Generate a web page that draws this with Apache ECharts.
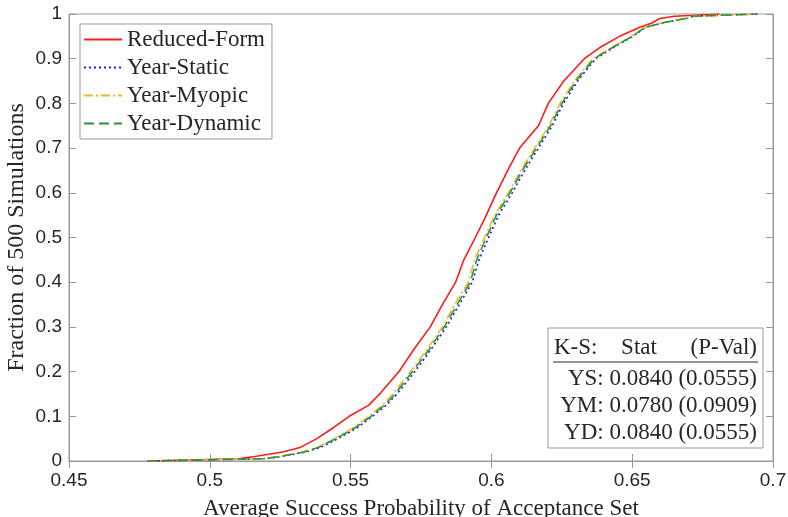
<!DOCTYPE html>
<html>
<head>
<meta charset="utf-8">
<script src="https://cdn.jsdelivr.net/npm/echarts@6/dist/echarts.min.js"></script>
<style>
  html, body { margin: 0; padding: 0; background: #fff; }
  #chart { width: 788px; height: 517px; }
</style>
</head>
<body>
<div id="chart"></div>
<script>
// ECDF levels (fraction of 500 simulations) and the x value reached at each level
var fractions = [0, 0.005, 0.01, 0.02, 0.03, 0.05, 0.075, 0.1, 0.125, 0.15, 0.2, 0.25, 0.3, 0.35, 0.4, 0.45,
                 0.5, 0.55, 0.6, 0.65, 0.7, 0.75, 0.8, 0.85, 0.9, 0.925, 0.95, 0.97, 0.98, 0.99, 0.995, 1];

var reducedForm = [0.4777, 0.510, 0.516, 0.526, 0.532, 0.538, 0.544, 0.5495, 0.5565, 0.5603, 0.5672, 0.5725, 0.5783, 0.5826, 0.5873, 0.5902,
                   0.5943, 0.5982, 0.6018, 0.6058, 0.6100, 0.6167, 0.6202, 0.6257, 0.6330, 0.6385, 0.6455, 0.6525, 0.6570, 0.6598, 0.6650, 0.6810];
var yearStatic  = [0.4780, 0.519, 0.5255, 0.5340, 0.5392, 0.5455, 0.5525, 0.5578, 0.5627, 0.5665, 0.5728, 0.5786, 0.5840, 0.5886, 0.5932, 0.5956,
                   0.5990, 0.6026, 0.6074, 0.6118, 0.6167, 0.6216, 0.6256, 0.6306, 0.6370, 0.6434, 0.6502, 0.6548, 0.6608, 0.6692, 0.6718, 0.6945];
var yearMyopic  = [0.4780, 0.518, 0.5245, 0.5330, 0.5380, 0.5442, 0.5512, 0.5566, 0.5613, 0.5650, 0.5713, 0.5772, 0.5826, 0.5870, 0.5918, 0.5940,
                   0.5976, 0.6012, 0.6060, 0.6104, 0.6154, 0.6204, 0.6244, 0.6295, 0.6360, 0.6427, 0.6496, 0.6542, 0.6602, 0.6688, 0.6712, 0.6940];
var yearDynamic = [0.4780, 0.519, 0.5250, 0.5335, 0.5385, 0.5448, 0.5518, 0.5572, 0.5620, 0.5658, 0.5720, 0.5779, 0.5833, 0.5878, 0.5925, 0.5948,
                   0.5982, 0.6018, 0.6066, 0.6110, 0.6160, 0.6210, 0.6250, 0.6300, 0.6365, 0.6430, 0.6500, 0.6545, 0.6605, 0.6690, 0.6715, 0.6943];

var ksRows = ['YS:', 'YM:', 'YD:'];
var ksStat = ['0.0840', '0.0780', '0.0840'];
var ksPval = ['(0.0555)', '(0.0909)', '(0.0555)'];

function pairs(xs) {
  return fractions.map(function (f, i) { return [xs[i], f]; });
}
function fmt(v) { return String(+v.toFixed(2)); }

var serif = 'Liberation Serif';
var ink = '#262626';
var axisCol = '#999999';
var tickFont = { fontFamily: 'Liberation Sans', fontSize: 19, color: ink };
var tableFont = '23px ' + serif;

var chartDom = document.getElementById('chart');
var myChart = echarts.init(chartDom);
var option;

option = {
  animation: false,
  grid: { left: 69, right: 15, top: 14, bottom: 56, outerBoundsMode: 'none', containLabel: false,
          show: true, borderColor: axisCol, borderWidth: 1 },
  legend: {
    orient: 'vertical', left: 80, top: 24,
    padding: [4, 7, 4, 3], itemGap: 5, itemWidth: 38, itemHeight: 14,
    borderColor: axisCol, borderWidth: 1, backgroundColor: '#fff',
    itemStyle: { opacity: 0 },
    textStyle: { fontFamily: serif, fontSize: 23, color: ink },
    data: ['Reduced-Form', 'Year-Static', 'Year-Myopic', 'Year-Dynamic']
  },
  xAxis: [{
    type: 'value', min: 0.45, max: 0.7, interval: 0.05, position: 'bottom',
    name: 'Average Success Probability of Acceptance Set', nameLocation: 'middle', nameGap: 36,
    nameTextStyle: { fontFamily: serif, fontSize: 23, color: ink },
    axisLine: { lineStyle: { color: axisCol } },
    axisTick: { inside: true, length: 7, lineStyle: { color: axisCol } },
    axisLabel: Object.assign({ formatter: fmt, margin: 10 }, tickFont),
    splitLine: { show: false }
  }, {
    type: 'value', min: 0.45, max: 0.7, interval: 0.05, position: 'top',
    axisLine: { lineStyle: { color: axisCol } },
    axisTick: { inside: true, length: 7, lineStyle: { color: axisCol } },
    axisLabel: { show: false }, splitLine: { show: false }
  }],
  yAxis: [{
    type: 'value', min: 0, max: 1, interval: 0.1, position: 'left',
    name: 'Fraction of 500 Simulations', nameLocation: 'middle', nameGap: 40, nameMoveOverlap: false,
    nameTextStyle: { fontFamily: serif, fontSize: 24, color: ink },
    axisLine: { show: true, lineStyle: { color: axisCol } },
    axisTick: { show: true, inside: true, length: 7, lineStyle: { color: axisCol } },
    axisLabel: Object.assign({ formatter: fmt, margin: 7 }, tickFont),
    splitLine: { show: false }
  }, {
    type: 'value', min: 0, max: 1, interval: 0.1, position: 'right',
    axisLine: { show: true, lineStyle: { color: axisCol } },
    axisTick: { show: true, inside: true, length: 7, lineStyle: { color: axisCol } },
    axisLabel: { show: false }, splitLine: { show: false }
  }],
  series: [
    { name: 'Reduced-Form', type: 'line', data: pairs(reducedForm), showSymbol: false, symbol: 'none',
      lineStyle: { color: '#ff1a1a', width: 1.6, type: 'solid' }, itemStyle: { color: '#ff1a1a' } },
    { name: 'Year-Static', type: 'line', data: pairs(yearStatic), showSymbol: false, symbol: 'none',
      lineStyle: { color: '#1a1aff', width: 1.6, type: [2, 3] }, itemStyle: { color: '#1a1aff' } },
    { name: 'Year-Myopic', type: 'line', data: pairs(yearMyopic), showSymbol: false, symbol: 'none',
      lineStyle: { color: '#f2b530', width: 1.6, type: [9, 3, 2, 3] }, itemStyle: { color: '#f2b530' } },
    { name: 'Year-Dynamic', type: 'line', data: pairs(yearDynamic), showSymbol: false, symbol: 'none',
      lineStyle: { color: '#2a982a', width: 1.6, type: [10, 5] }, itemStyle: { color: '#2a982a' } }
  ],
  graphic: [
    { type: 'rect', shape: { x: 548, y: 328, width: 215, height: 120 },
      style: { fill: '#fff', stroke: axisCol, lineWidth: 1 } },
    { type: 'text', x: 554, y: 348, style: { text: 'K-S:', font: tableFont, fill: ink, textVerticalAlign: 'middle' } },
    { type: 'text', x: 639, y: 348, style: { text: 'Stat', font: tableFont, fill: ink, textAlign: 'center', textVerticalAlign: 'middle' } },
    { type: 'text', x: 757, y: 348, style: { text: '(P-Val)', font: tableFont, fill: ink, textAlign: 'right', textVerticalAlign: 'middle' } },
    { type: 'line', shape: { x1: 553, y1: 362, x2: 758, y2: 362 }, style: { stroke: ink, lineWidth: 1 } }
  ].concat(ksRows.map(function (r, i) {
    return { type: 'text', x: 757, y: 379 + i * 27,
      style: { text: r + ' ' + ksStat[i] + ' ' + ksPval[i], font: tableFont, fill: ink, textAlign: 'right', textVerticalAlign: 'middle' } };
  }))
};

option && myChart.setOption(option);
</script>
</body>
</html>
